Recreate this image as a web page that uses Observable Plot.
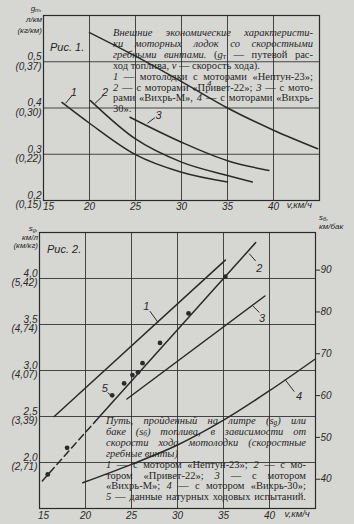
<!DOCTYPE html>
<html><head><meta charset="utf-8">
<script src="https://cdn.jsdelivr.net/npm/d3@7"></script>
<script src="https://cdn.jsdelivr.net/npm/@observablehq/plot@0.6"></script>
<style>
html,body{margin:0;padding:0;background:#d6d6d3;}
#page{position:relative;width:354px;height:524px;overflow:hidden;background:#d6d6d3;color:#262626;font-family:"Liberation Serif","DejaVu Serif",serif;}
.svgw{position:absolute;left:0;}
.cap{position:absolute;font-size:10.5px;line-height:10.9px;}
.cap div{text-align:justify;text-align-last:justify;}
.cap div.last{text-align:left;text-align-last:left;}
.it{font-style:italic;}
.unit{position:absolute;font-family:"Liberation Sans Narrow","Liberation Sans",sans-serif;font-style:italic;font-size:8px;}
.fig{position:absolute;font-family:"Liberation Sans Narrow","Liberation Sans",sans-serif;font-style:italic;font-size:11px;}
sub{font-size:70%;vertical-align:-1px;line-height:0;}
</style></head>
<body><div id="page">
<div class="svgw" id="top" style="top:0"></div>
<div class="svgw" id="bot" style="top:212px"></div>

<div class="unit" style="top:3px;right:312px;text-align:right;line-height:11px;">g<sub>т</sub>,<br>л/км<br>(кг/км)</div>
<div class="fig" style="left:50px;top:41px;">Рис. 1.</div>
<div class="cap" style="left:113px;top:28px;width:200px;">
<div class="it">Внешние экономические характеристи-</div>
<div class="it">ки моторных лодок со скоростными</div>
<div><span class="it">гребными винтами.</span> (<span class="it">g</span><sub>т</sub> — путевой рас-</div>
<div class="last">ход топлива, <span class="it">v</span> — скорость хода).</div>
<div><span class="it">1</span> — мотолодки с моторами «Нептун-23»;</div>
<div><span class="it">2</span> — с моторами «Привет-22»; <span class="it">3</span> — с мото-</div>
<div>рами «Вихрь-М», <span class="it">4</span> — с моторами «Вихрь-</div>
<div class="last">30».</div>
</div>

<div class="unit" style="top:225px;right:316px;text-align:right;line-height:8.5px;">s<sub>g</sub>,<br>км/л<br>(км/кг)</div>
<div class="unit" style="top:213px;left:319px;line-height:9px;">s<sub>б</sub>,<br>км/бак</div>
<div class="fig" style="left:47px;top:243px;">Рис. 2.</div>
<div class="cap" style="left:106px;top:416px;width:200px;">
<div class="it">Путь, пройденный на литре (s<sub>g</sub>) или</div>
<div class="it">баке (s<sub>б</sub>) топлива, в зависимости от</div>
<div class="it">скорости хода мотолодки (скоростные</div>
<div class="it last">гребные винты)</div>
<div><span class="it">1</span> — с мотором «Нептун-23»; <span class="it">2</span> — с мо-</div>
<div>тором «Привет-22»; <span class="it">3</span> — с мотором</div>
<div>«Вихрь-М»; <span class="it">4</span> — с мотором «Вихрь-30»;</div>
<div><span class="it">5</span> — данные натурных ходовых испытаний.</div>
</div>
</div>
<script>
// ---------- Рис. 1 data ----------
const xTicks = [15, 20, 25, 30, 35, 40];
const topYTicks = [0.2, 0.3, 0.4, 0.5];
const topYLab = ["0,2", "0,3", "0,4", "0,5"];
const topYLabKg = ["(0,15)", "(0,22)", "(0,30)", "(0,37)"];
const c1V = [17.0, 20, 25, 30, 35],        c1G = [0.412, 0.367, 0.299, 0.261, 0.240];
const c2V = [20.1, 25, 30, 35, 37.7],      c2G = [0.416, 0.333, 0.283, 0.254, 0.240];
const c3V = [24.4, 30, 35, 39.5],          c3G = [0.380, 0.326, 0.286, 0.265];
const c4V = [20, 25, 30, 35, 40, 44.8],    c4G = [0.563, 0.512, 0.457, 0.400, 0.352, 0.312];
const topLabels = ["1", "2", "3", "4"];
const topLabV = [18.3, 21.7, 27.5, 33.0], topLabG = [0.434, 0.434, 0.384, 0.454];
const topLeadV1 = [18.1, 21.5, 27.1], topLeadG1 = [0.427, 0.427, 0.379];
const topLeadV2 = [17.4, 20.6, 26.3], topLeadG2 = [0.410, 0.410, 0.367];

// ---------- Рис. 2 data ----------
const botYTicks = [2.0, 2.5, 3.0, 3.5, 4.0];
const botYLab = ["2,0", "2,5", "3,0", "3,5", "4,0"];
const botYLabKg = ["(2,71)", "(3,39)", "(4,07)", "(4,74)", "(5,42)"];
const tankL = 22;
const rightTicks = [40, 50, 60, 70, 80, 90];
const l1V = [16.6, 35.2],  l1S = [2.50, 4.20];
const l2dV = [15.3, 21.0], l2dS = [1.80, 2.44];
const l2V = [21.0, 38.5],  l2S = [2.44, 4.39];
const l3V = [24.5, 39.5],  l3S = [2.69, 3.81];
const l4V = [19.7, 25, 30, 35, 40, 44.9], l4S = [1.78, 1.98, 2.19, 2.46, 2.78, 3.12];
const ptV = [15.9, 18.0, 22.9, 24.2, 25.1, 25.7, 26.2, 28.1, 31.2, 35.2];
const ptS = [1.87, 2.16, 2.73, 2.86, 2.95, 2.98, 3.08, 3.30, 3.62, 4.02];
const botLabels = ["1", "2", "3", "4", "5"];
const botLabV = [26.6, 38.9, 39.2, 43.2, 22.1], botLabS = [3.70, 4.11, 3.57, 2.72, 2.80];
const botLeadV1 = [27.0, 37.8, 38.2, 41.7, 22.4], botLeadS1 = [3.645, 4.27, 3.70, 2.90, 2.76];
const botLeadV2 = [27.9, 38.5, 38.9, 42.7, 22.9], botLeadS2 = [3.52, 4.19, 3.63, 2.77, 2.72];

const INK = "#2a2a2a";
const numFont = '"Liberation Sans Narrow","Liberation Sans",sans-serif';
const rows = (vs, ys, k) => vs.map((v, i) => ({v, y: ys[i], k}));

const topCurves = [].concat(rows(c1V, c1G, 1), rows(c2V, c2G, 2), rows(c3V, c3G, 3), rows(c4V, c4G, 4));
const topLab = topLabels.map((t, i) => ({t, v: topLabV[i], y: topLabG[i]}));
const topLead = topLeadV1.map((v, i) => ({v1: v, y1: topLeadG1[i], v2: topLeadV2[i], y2: topLeadG2[i]}));

const topPlot = Plot.plot({
  width: 354, height: 214,
  marginLeft: 43, marginRight: 35, marginTop: 15, marginBottom: 14,
  x: {domain: [15, 45]},
  y: {domain: [0.2, 0.6]},
  style: {background: "transparent", fontFamily: numFont, fontSize: "10px", fontStyle: "italic", color: INK},
  marks: [
    Plot.gridX(xTicks.slice(1), {stroke: INK, strokeOpacity: 0.85, strokeWidth: 1}),
    Plot.gridY([0.3, 0.4, 0.5], {stroke: INK, strokeOpacity: 0.85, strokeWidth: 1}),
    Plot.frame({stroke: INK, strokeWidth: 1.2}),
    Plot.axisX(xTicks.slice(0, 1), {tickSize: 0, tickPadding: 2, dx: 5, label: null, tickFormat: d => String(d)}),
    Plot.axisX(xTicks.slice(1), {tickSize: 0, tickPadding: 2, label: null, tickFormat: d => String(d)}),
    Plot.axisY(topYTicks, {tickSize: 0, tickPadding: 2, label: null,
      tickFormat: d => { const i = topYTicks.indexOf(d); return topYLab[i] + "\n" + topYLabKg[i]; }, lineHeight: 0.95}),
    Plot.text([{t: "v,км/ч", v: 42.8}], {x: "v", text: "t", frameAnchor: "bottom", dy: 7, fontSize: 9.5}),
    Plot.line(topCurves, {x: "v", y: "y", z: "k", curve: "monotone-x", stroke: INK, strokeWidth: 1.5}),
    Plot.link(topLead, {x1: "v1", y1: "y1", x2: "v2", y2: "y2", stroke: INK, strokeWidth: 1}),
    Plot.text(topLab, {x: "v", y: "y", text: "t", fontSize: d => d.t === "4" ? 8 : 11})
  ]
});
document.getElementById("top").append(topPlot);

const botLines = [].concat(rows(l1V, l1S, 1), rows(l2V, l2S, 2), rows(l3V, l3S, 3), rows(l4V, l4S, 4));
const botDash = rows(l2dV, l2dS, 5);
const pts = ptV.map((v, i) => ({v, y: ptS[i]}));
const botLab = botLabels.map((t, i) => ({t, v: botLabV[i], y: botLabS[i]}));
const botLead = botLeadV1.map((v, i) => ({v1: v, y1: botLeadS1[i], v2: botLeadV2[i], y2: botLeadS2[i]}));

const botPlot = Plot.plot({
  width: 354, height: 312,
  marginLeft: 39, marginRight: 39, marginTop: 20, marginBottom: 16,
  x: {domain: [15, 45]},
  y: {domain: [1.5, 4.5]},
  style: {background: "transparent", fontFamily: numFont, fontSize: "10px", fontStyle: "italic", color: INK},
  marks: [
    Plot.gridX(xTicks.slice(1), {stroke: INK, strokeOpacity: 0.85, strokeWidth: 1}),
    Plot.gridY(botYTicks, {stroke: INK, strokeOpacity: 0.85, strokeWidth: 1}),
    Plot.frame({stroke: INK, strokeWidth: 1.2}),
    Plot.axisX(xTicks.slice(0, 1), {tickSize: 0, tickPadding: 3, dx: 4, label: null, tickFormat: d => String(d)}),
    Plot.axisX(xTicks.slice(1), {tickSize: 0, tickPadding: 3, label: null, tickFormat: d => String(d)}),
    Plot.axisY(botYTicks, {tickSize: 0, tickPadding: 2, label: null,
      tickFormat: d => { const i = botYTicks.indexOf(d); return botYLab[i] + "\n" + botYLabKg[i]; }, lineHeight: 0.95}),
    Plot.axisY(rightTicks.map(d => d / tankL), {anchor: "right", tickSize: 4, tickPadding: 1, label: null,
      stroke: INK, tickFormat: d => String(Math.round(d * tankL))}),
    Plot.text([{t: "v,км/ч", v: 43.0}], {x: "v", text: "t", frameAnchor: "bottom", dy: 8, fontSize: 9.5}),
    Plot.line(botLines, {x: "v", y: "y", z: "k", curve: "monotone-x", stroke: INK, strokeWidth: 1.5}),
    Plot.line(botDash, {x: "v", y: "y", stroke: INK, strokeWidth: 1.5, strokeDasharray: "7,4"}),
    Plot.dot(pts, {x: "v", y: "y", r: 2.4, fill: INK, stroke: "none"}),
    Plot.link(botLead, {x1: "v1", y1: "y1", x2: "v2", y2: "y2", stroke: INK, strokeWidth: 1}),
    Plot.text(botLab, {x: "v", y: "y", text: "t", fontSize: 11})
  ]
});
document.getElementById("bot").append(botPlot);
</script>
</body></html>
